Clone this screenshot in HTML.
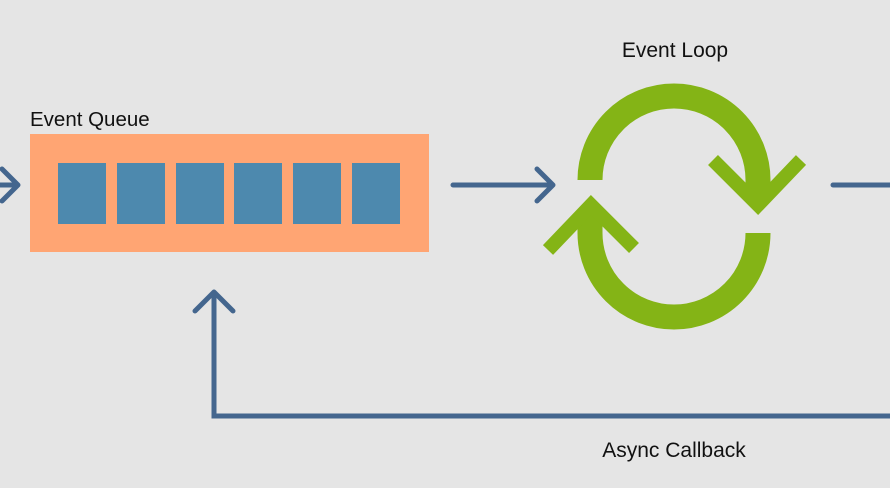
<!DOCTYPE html>
<html><head><meta charset="utf-8"><style>
html,body{margin:0;padding:0;background:#e5e5e5;}
svg{display:block;}
text{font-family:"Liberation Sans",sans-serif;fill:#111;}
</style></head><body>
<svg width="890" height="488" viewBox="0 0 890 488" xmlns="http://www.w3.org/2000/svg">
<rect width="890" height="488" fill="#e5e5e5"/>
<text x="30" y="126" font-size="20.5">Event Queue</text>
<text x="675" y="57" font-size="21" text-anchor="middle">Event Loop</text>
<text x="674" y="457" font-size="21" text-anchor="middle">Async Callback</text>
<rect x="30" y="134" width="399" height="118" fill="#ffa573"/>
<g fill="#4d89ae">
<rect x="58" y="163" width="48" height="61"/>
<rect x="117" y="163" width="48" height="61"/>
<rect x="176" y="163" width="48" height="61"/>
<rect x="234" y="163" width="48" height="61"/>
<rect x="293" y="163" width="48" height="61"/>
<rect x="352" y="163" width="48" height="61"/>
</g>
<g stroke="#44668e" stroke-width="5" fill="none" stroke-linecap="round" stroke-linejoin="round">
<path d="M-5 185 H18 M2 169 L18 185 L2 201"/>
<path d="M453 185 H553 M537 169 L553 185 L537 201"/>
<path d="M833 185 H895"/>
<path d="M214 292 V416 H895" stroke-linecap="butt" stroke-linejoin="miter"/>
<path d="M195 311 L214 292 L233 311"/>
</g>
<g stroke="#84b416" stroke-width="25" fill="none">
<path d="M590 180 A84 84 0 0 1 758 180 V200"/>
<path d="M758 233 A84 84 0 0 1 590 233 V213"/>
</g>
<g stroke="#84b416" stroke-width="14" fill="none" stroke-linecap="butt">
<path d="M713 160 L758 205 L801 160"/>
<path d="M548 250 L591 205 L634 248"/>
</g>
</svg>
</body></html>
